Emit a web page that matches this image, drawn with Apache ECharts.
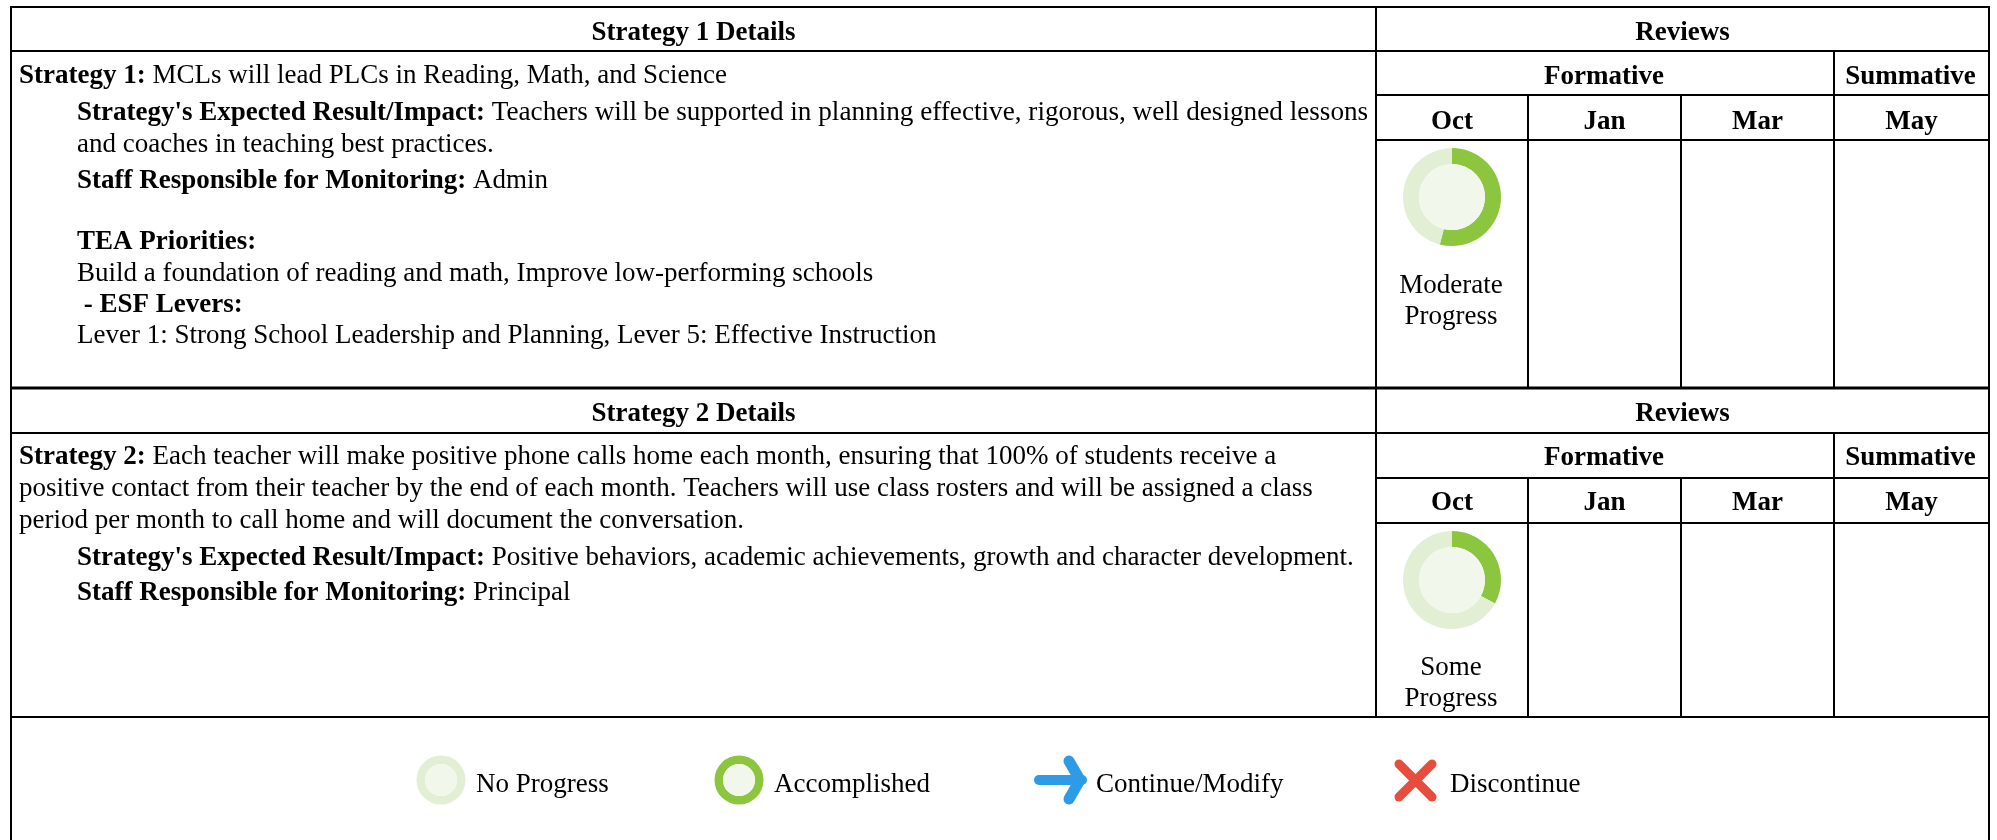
<!DOCTYPE html>
<html>
<head>
<meta charset="utf-8">
<style>html,body{margin:0;padding:0;background:#fff}#c{width:1997px;height:840px}</style>
<script src="https://cdn.jsdelivr.net/npm/echarts@6/dist/echarts.min.js"></script>
</head>
<body>
<div id="c"></div>
<script>
// ---- content ----
const reviewHeader = 'Reviews';
const reviewGroups = ['Formative', 'Summative'];
const reviewMonths = ['Oct', 'Jan', 'Mar', 'May'];
const strategyTitles = ['Strategy 1 Details', 'Strategy 2 Details'];
const strategy1Lines = [
  ['Strategy 1:', ' MCLs will lead PLCs in Reading, Math, and Science'],
  ["Strategy's Expected Result/Impact:", ' Teachers will be supported in planning effective, rigorous, well designed lessons'],
  ['', 'and coaches in teaching best practices.'],
  ['Staff Responsible for Monitoring:', ' Admin'],
  ['TEA Priorities:', ''],
  ['', 'Build a foundation of reading and math, Improve low-performing schools'],
  [' - ESF Levers:', ''],
  ['', 'Lever 1: Strong School Leadership and Planning, Lever 5: Effective Instruction']
];
const strategy2Lines = [
  ['Strategy 2:', ' Each teacher will make positive phone calls home each month, ensuring that 100% of students receive a'],
  ['', 'positive contact from their teacher by the end of each month. Teachers will use class rosters and will be assigned a class'],
  ['', 'period per month to call home and will document the conversation.'],
  ["Strategy's Expected Result/Impact:", ' Positive behaviors, academic achievements, growth and character development.'],
  ['Staff Responsible for Monitoring:', ' Principal']
];
const progressNames = ['Moderate\nProgress', 'Some\nProgress'];
const progressDone = [54, 33];
const progressLeft = [46, 67];
const legendLabels = ['No Progress', 'Accomplished', 'Continue/Modify', 'Discontinue'];

// ---- layout ----
const F = '"Liberation Serif", "Times New Roman", serif';
const FS = 27;
const L = { left: 11, right: 1989, split: 1376, c1: 1528, c2: 1681, c3: 1834 };
const blocks = [
  { top: 7, h1: 51, h2: 95, h3: 140, bottom: 388, ys: [76, 113, 145, 181, 242, 274, 305, 336], lines: strategy1Lines,
    xs: [19, 77, 77, 77, 77, 77, 77, 77], plainSize: { 1: 27.2 }, donutY: 197, noteY: 299, dy: [1, 1, 2] },
  { top: 389, h1: 433, h2: 478, h3: 523, bottom: 717, ys: [457, 489, 521, 558, 593], lines: strategy2Lines,
    xs: [19, 19, 19, 77, 77], plainSize: {}, donutY: 580, noteY: 681, dy: [0, 0, 0] }
];
const donutX = 1452, R = 49, r = 33;
const GREEN = '#8cc63f', PALE = '#e2efd5', INNER = '#f2f7ec';

const graphics = [];
function hline(x1, x2, y, w) {
  graphics.push({ type: 'line', shape: { x1, y1: y, x2, y2: y }, style: { stroke: '#000', lineWidth: w || 2 }, z: 5 });
}
function vline(x, y1, y2, w) {
  graphics.push({ type: 'line', shape: { x1: x, y1, x2: x, y2 }, style: { stroke: '#000', lineWidth: w || 2 }, z: 5 });
}
function label(text, x, y, bold, align) {
  graphics.push({ type: 'text', x, y, z: 6, style: {
    text, fill: '#000', font: (bold ? 'bold ' : '') + FS + 'px ' + F, align: align || 'center', verticalAlign: 'middle'
  } });
}
hline(L.left - 1, L.right + 1, 7);
vline(L.left, 7, 840);
vline(L.right, 7, 840);
blocks.forEach((b, i) => {
  hline(L.left, L.right, b.h1);
  hline(L.split, L.right, b.h2);
  hline(L.split, L.right, b.h3);
  hline(L.left, L.right, b.bottom, i === 0 ? 3 : 2);
  vline(L.split, b.top, b.bottom);
  vline(L.c3, b.h1, b.bottom);
  vline(L.c1, b.h2, b.bottom);
  vline(L.c2, b.h2, b.bottom);
  const hy = (b.top + b.h1) / 2 + 3 + b.dy[0];
  label(strategyTitles[i], (L.left + L.split) / 2, hy, true);
  label(reviewHeader, (L.split + L.right) / 2, hy, true);
  const gy = (b.h1 + b.h2) / 2 + 3 + b.dy[1];
  label(reviewGroups[0], (L.split + L.c3) / 2 - 1, gy, true);
  label(reviewGroups[1], (L.c3 + L.right) / 2 - 1, gy, true);
  const my = (b.h2 + b.h3) / 2 + 3 + b.dy[2];
  [L.split, L.c1, L.c2, L.c3].forEach((x, k) => {
    const nx = k < 3 ? [L.c1, L.c2, L.c3][k] : L.right;
    label(reviewMonths[k], (x + nx) / 2, my, true);
  });
  b.lines.forEach((ln, k) => {
    const txt = (ln[0] ? '{b|' + ln[0] + '}' : '') + (ln[1] ? '{r|' + ln[1] + '}' : '');
    graphics.push({ type: 'text', x: b.xs[k], y: b.ys[k], z: 6, style: {
      text: txt, align: 'left', verticalAlign: 'middle', font: FS + 'px ' + F, fill: '#000',
      rich: {
        b: { fontFamily: F, fontSize: FS, fontWeight: 'bold', fill: '#000', color: '#000' },
        r: { fontFamily: F, fontSize: b.plainSize[k] || FS, fill: '#000', color: '#000' }
      }
    } });
  });
  progressNames[i].split('\n').forEach((t, k) => label(t, donutX - 1, b.noteY - 13 + k * 31, false));
});

// legend symbols that are not rings, and legend text
const legendTextX = [476, 774, 1096, 1450];
legendLabels.forEach((t, i) => label(t, legendTextX[i], 785, false, 'left'));
const BLUE = '#2d9be6', RED = '#e74c3c';
graphics.push({ type: 'line', z: 6, shape: { x1: 1039, y1: 780, x2: 1082, y2: 780 },
  style: { stroke: BLUE, lineWidth: 10, lineCap: 'round' } });
graphics.push({ type: 'polyline', z: 6, shape: { points: [[1069, 761], [1080, 780], [1069, 799]] },
  style: { stroke: BLUE, fill: 'none', lineWidth: 11, lineCap: 'round', lineJoin: 'miter' } });
[[1399, 764, 1432, 797], [1432, 764, 1399, 797]].forEach(p => graphics.push({ type: 'line', z: 6,
  shape: { x1: p[0], y1: p[1], x2: p[2], y2: p[3] }, style: { stroke: RED, lineWidth: 9, lineCap: 'round' } }));

// ---- pies ----
const plain = { silent: true, animation: false, label: { show: false }, labelLine: { show: false }, emphasis: { disabled: true }, type: 'pie', startAngle: 90 };
const series = [];
function ring(cx, cy, outer, inner, values, colors, centerFill) {
  series.push(Object.assign({}, plain, { center: [cx, cy], radius: [inner, outer],
    data: values.map((v, i) => ({ value: v, name: 'part' + i, itemStyle: { color: colors[i] } })) }));
  series.push(Object.assign({}, plain, { center: [cx, cy], radius: [0, inner],
    data: [{ value: 1, name: 'center', itemStyle: { color: centerFill } }] }));
}
blocks.forEach((b, i) => ring(donutX, b.donutY, R, r, [progressDone[i], progressLeft[i]], [GREEN, PALE], INNER));
ring(441, 780, 24.5, 16, [100], [PALE], INNER);
ring(739, 780, 24.5, 16, [100], [GREEN], INNER);

const chart = echarts.init(document.getElementById('c'), null, { renderer: 'canvas' });
chart.setOption({ backgroundColor: '#fff', animation: false, graphic: { elements: graphics }, series });
</script>
</body>
</html>
